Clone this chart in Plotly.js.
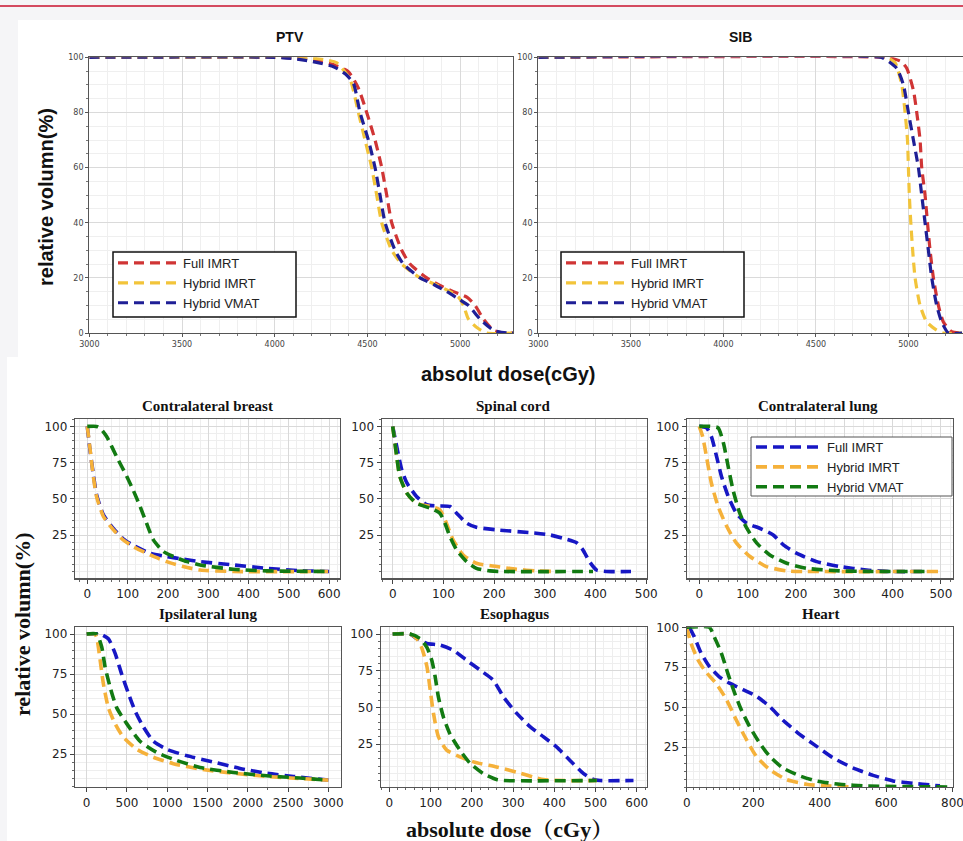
<!DOCTYPE html>
<html>
<head>
<meta charset="utf-8">
<script src="https://cdn.plot.ly/plotly-3.0.1.min.js"></script>
<style>html,body{margin:0;padding:0;background:#fff;}#chart{width:963px;height:841px;}</style>
</head>
<body>
<div id="chart"></div>
<script>
// ---------------- DATA ----------------
const seriesTop = ['Full IMRT', 'Hybrid IMRT', 'Hybrid VMAT'];
const seriesBottom = ['Full IMRT', 'Hybrid IMRT', 'Hybrid VMAT'];
const panelTitlesTop = ['PTV', 'SIB'];
const panelTitlesBottom = ['Contralateral breast', 'Spinal cord', 'Contralateral lung', 'Ipsilateral lung', 'Esophagus', 'Heart'];

// PTV
const ptvFullX = [3000, 4000, 4150, 4250, 4330, 4397, 4450, 4496, 4541, 4577, 4604, 4631, 4685, 4730, 4820, 4900, 4964, 5036, 5081, 5126, 5180, 5234, 5290];
const ptvFullY = [100, 100, 99.5, 98.5, 97, 94.8, 89, 80, 70, 60, 50, 40, 30, 25, 20, 17, 15, 13, 10, 5, 1, 0, 0];
const ptvHybImrtX = [3000, 4100, 4200, 4280, 4335, 4406, 4451, 4487, 4523, 4550, 4577, 4631, 4685, 4784, 4870, 4946, 4991, 5018, 5045, 5090, 5144, 5290];
const ptvHybImrtY = [100, 100, 99.7, 99, 98, 92, 80, 70, 60, 50, 40, 30, 25, 20, 17.5, 15, 13, 10, 5, 2, 0, 0];
const ptvHybVmatX = [3000, 4000, 4100, 4200, 4317, 4380, 4424, 4460, 4505, 4541, 4568, 4595, 4649, 4694, 4784, 4860, 4928, 5000, 5045, 5108, 5180, 5252, 5290];
const ptvHybVmatY = [100, 100, 99.5, 98.5, 96.6, 94, 90.6, 80, 70, 60, 50, 40, 30, 25, 20, 17.5, 15, 12, 10, 5, 1, 0, 0];

// SIB
const sibFullX = [3000, 4880, 4919, 4960, 4991, 5027, 5045, 5063, 5072, 5090, 5103, 5117, 5135, 5162, 5189, 5234, 5290];
const sibFullY = [100, 100, 99.5, 98.5, 96, 88, 80, 70, 60, 50, 40, 30, 20, 10, 4, 0.5, 0];
const sibHybImrtX = [3000, 4880, 4928, 4964, 4982, 4995, 5000, 5005, 5013, 5023, 5036, 5063, 5099, 5153, 5189, 5290];
const sibHybImrtY = [100, 100, 98, 90, 80, 70, 60, 50, 40, 30, 20, 10, 4, 1, 0, 0];
const sibHybVmatX = [3000, 4850, 4883, 4937, 4973, 5000, 5027, 5054, 5072, 5090, 5108, 5126, 5153, 5180, 5216, 5290];
const sibHybVmatY = [100, 100, 99, 96, 90, 80, 70, 60, 50, 40, 30, 20, 10, 4, 0, 0];

// Contralateral breast
const cbFullX = [0, 7, 15, 23, 40, 65, 89, 114, 156, 197, 238, 280, 362, 445, 528, 600];
const cbFullY = [100, 83, 67, 53, 39, 29.5, 22.5, 18, 12.6, 10.3, 8.5, 6.8, 4.5, 2.2, 0.6, 0];
const cbHybImrtX = [0, 7, 15, 23, 40, 65, 89, 114, 156, 197, 238, 280, 362, 600];
const cbHybImrtY = [100, 84, 65.5, 51.7, 37.9, 28.7, 21.8, 17.2, 11.4, 6.8, 3.4, 1, 0, 0];
const cbHybVmatX = [0, 23, 31, 48, 73, 98, 114, 131, 147, 164, 189, 214, 247, 280, 362, 445, 600];
const cbHybVmatY = [100, 100, 99, 93, 79, 65.5, 56, 44.8, 33.3, 21.8, 13.7, 10.3, 6.8, 4.5, 1.5, 0.4, 0];

// Spinal cord
const scFullX = [0, 8, 18, 28, 47, 67, 87, 113, 126, 146, 165, 205, 270, 310, 336, 362, 375, 388, 402, 421, 470];
const scFullY = [100, 86, 70, 61, 51.7, 46, 45.2, 44.8, 40.2, 33.3, 30.5, 28.7, 26.8, 25.2, 22.9, 19.9, 14.9, 6.8, 1, 0, 0];
const scHybImrtX = [0, 8, 14, 28, 47, 74, 93, 106, 119, 139, 165, 205, 244, 283, 320];
const scHybImrtY = [100, 79, 65.5, 54, 47, 44.8, 42.5, 33.3, 21.8, 11.4, 5.7, 3.4, 1.5, 0.4, 0];
const scHybVmatX = [0, 8, 14, 28, 47, 74, 93, 103, 113, 126, 146, 165, 192, 210, 395];
const scHybVmatY = [100, 79, 65.5, 54, 47, 43.6, 40.2, 33.3, 24, 14.9, 6.8, 2.2, 0.4, 0, 0];

// Contralateral lung
const clFullX = [0, 15, 25, 36, 46, 60, 77, 98, 125, 153, 174, 201, 243, 291, 346, 394, 470];
const clFullY = [100, 99, 93, 79, 65.5, 51.7, 40, 33.3, 29.8, 25.2, 18.3, 12.6, 6.8, 3.4, 1, 0, 0];
const clHybImrtX = [0, 7, 15, 25, 39, 57, 77, 105, 139, 181, 222, 500];
const clHybImrtY = [100, 93, 79, 61, 44.8, 31, 19.5, 10.3, 3.4, 0.4, 0, 0];
const clHybVmatX = [0, 22, 39, 50, 60, 70, 84, 98, 119, 146, 181, 222, 291, 350, 477];
const clHybVmatY = [100, 100, 99, 88.5, 72, 56, 40, 30, 19.5, 11.4, 5.7, 2.2, 0.4, 0, 0];

// Ipsilateral lung
const ilFullX = [0, 166, 269, 352, 434, 517, 600, 703, 828, 993, 1241, 1572, 1903, 2235, 2566, 3000];
const ilFullY = [100, 100, 97, 88, 75, 63, 52, 42, 33, 28, 24, 20, 16, 13, 11, 8.7];
const ilHybImrtX = [0, 100, 124, 166, 207, 269, 352, 455, 621, 828, 1076, 1407, 1821, 2235, 2648, 3000];
const ilHybImrtY = [100, 100, 98, 84, 69, 54, 44, 35.5, 28, 23, 19, 15.6, 13, 11, 9.7, 8.7];
const ilHybVmatX = [0, 124, 186, 228, 290, 372, 497, 662, 869, 1117, 1407, 1821, 2235, 2648, 3000];
const ilHybVmatY = [100, 100, 92, 79.5, 67, 54, 44, 33, 26, 21, 16.6, 13.5, 11.4, 10, 8.7];

// Esophagus
const esFullX = [8, 50, 66, 91, 123, 155, 188, 220, 252, 277, 309, 341, 374, 406, 438, 471, 495, 511, 592];
const esFullY = [100, 100, 97, 93.6, 92.5, 89, 82, 75.5, 68.6, 57, 46, 37, 30, 23, 14, 5, 1, 0.3, 0.3];
const esHybImrtX = [8, 50, 66, 78, 91, 99, 107, 119, 139, 163, 204, 260, 309, 349, 374, 422, 503];
const esHybImrtY = [100, 100, 97, 91, 78, 62, 46, 30, 21, 17.5, 13, 9.5, 6, 2.7, 0.9, 0.3, 0.3];
const esHybVmatX = [8, 50, 74, 91, 103, 111, 119, 131, 147, 171, 196, 228, 260, 277, 503];
const esHybVmatY = [100, 100, 97, 91, 82, 71, 57, 43.6, 32, 21, 12, 5, 1, 0.3, 0.3];

// Heart
const htFullX = [8, 23, 43, 68, 98, 129, 169, 209, 249, 289, 340, 390, 440, 500, 561, 621, 681, 742, 762];
const htFullY = [100, 94, 84, 75.5, 69, 65, 61, 57, 50.5, 42, 33, 25.6, 18.3, 12, 7.3, 3.8, 2.3, 1.1, 0.7];
const htHybImrtX = [0, 13, 33, 58, 88, 119, 149, 179, 209, 249, 299, 360, 420, 500];
const htHybImrtY = [100, 90, 80, 72, 65, 55, 42, 30, 19.4, 11, 4.8, 1.7, 0.7, 0];
const htHybVmatX = [0, 68, 83, 104, 124, 144, 164, 189, 219, 249, 289, 340, 390, 460, 541, 641, 800];
const htHybVmatY = [100, 100, 94, 84, 71, 59, 48.5, 38, 27.7, 19.4, 12, 7, 3.8, 1.7, 0.7, 0.3, 0];

// ---------------- LAYOUT HELPERS ----------------
const W = 963, H = 841;
const px = v => v / W;
const py = v => 1 - v / H;

const topColors = ['#d03535', '#f2c43a', '#1f1f96'];
const botColors = ['#1717c4', '#f5b13a', '#127a12'];

const traces = [];
function addSet(xs, ys, names, colors, axisNum, legendId, dash, width) {
  for (let i = 0; i < xs.length; i++) {
    traces.push({
      type: 'scatter', mode: 'lines', x: xs[i], y: ys[i], name: names[i],
      xaxis: axisNum === 1 ? 'x' : 'x' + axisNum,
      yaxis: axisNum === 1 ? 'y' : 'y' + axisNum,
      line: {color: colors[i], width: width, dash: dash, shape: 'spline', smoothing: 0.6},
      showlegend: !!legendId,
      legend: legendId || 'legend',
      hoverinfo: 'skip'
    });
  }
}

addSet([ptvFullX, ptvHybImrtX, ptvHybVmatX], [ptvFullY, ptvHybImrtY, ptvHybVmatY], seriesTop, topColors, 1, 'legend', '10px,6px', 3.2);
addSet([sibFullX, sibHybImrtX, sibHybVmatX], [sibFullY, sibHybImrtY, sibHybVmatY], seriesTop, topColors, 2, 'legend2', '10px,6px', 3.2);
addSet([cbFullX, cbHybImrtX, cbHybVmatX], [cbFullY, cbHybImrtY, cbHybVmatY], seriesBottom, botColors, 3, null, '11px,6px', 3.6);
addSet([scFullX, scHybImrtX, scHybVmatX], [scFullY, scHybImrtY, scHybVmatY], seriesBottom, botColors, 4, null, '11px,6px', 3.6);
addSet([clFullX, clHybImrtX, clHybVmatX], [clFullY, clHybImrtY, clHybVmatY], seriesBottom, botColors, 5, 'legend3', '11px,6px', 3.6);
addSet([ilFullX, ilHybImrtX, ilHybVmatX], [ilFullY, ilHybImrtY, ilHybVmatY], seriesBottom, botColors, 6, null, '11px,6px', 3.6);
addSet([esFullX, esHybImrtX, esHybVmatX], [esFullY, esHybImrtY, esHybVmatY], seriesBottom, botColors, 7, null, '11px,6px', 3.6);
addSet([htFullX, htHybImrtX, htHybVmatX], [htFullY, htHybImrtY, htHybVmatY], seriesBottom, botColors, 8, null, '11px,6px', 3.6);

function topAxis(domain, range, tickvals, minorDtick, anchor) {
  return {
    domain: domain, range: range, anchor: anchor, tickmode: 'array', tickvals: tickvals,
    ticks: 'outside', ticklen: 3, tickcolor: '#555', tickwidth: 1,
    tickfont: {family: 'DejaVu Sans', size: 8, color: '#444'},
    showline: true, linecolor: '#555', linewidth: 1.2, mirror: true,
    showgrid: true, gridcolor: '#dadada', gridwidth: 1,
    zeroline: false,
    minor: {dtick: minorDtick, showgrid: true, gridcolor: '#efefef', ticks: 'outside', ticklen: 2, tickcolor: '#777'}
  };
}
function botAxis(domain, range, tickvals, minorDtick, anchor) {
  return {
    domain: domain, range: range, anchor: anchor, tickmode: 'array', tickvals: tickvals,
    ticks: 'outside', ticklen: 4, tickcolor: '#444', tickwidth: 1,
    tickfont: {family: 'DejaVu Sans', size: 12, color: '#222'},
    showline: true, linecolor: '#555', linewidth: 1.2, mirror: true,
    showgrid: true, gridcolor: '#d9d9d9', gridwidth: 1,
    zeroline: false,
    minor: {dtick: minorDtick, tick0: 0, showgrid: true, gridcolor: '#eeeeee', ticks: 'outside', ticklen: 2, tickcolor: '#666'}
  };
}

const doseTicksTop = [3000, 3500, 4000, 4500, 5000];
const volTicksTop = [0, 20, 40, 60, 80, 100];
const volTicksBot = [25, 50, 75, 100];

const row1 = [py(578.3), py(419)];
const row2 = [py(787), py(627.3)];

const legendBase = {
  xanchor: 'left', yanchor: 'top', bgcolor: 'rgba(0,0,0,0)', borderwidth: 0,
  font: {family: 'Liberation Sans', size: 13, color: '#222'},
  itemwidth: 60, tracegroupgap: 0, itemclick: false, itemdoubleclick: false
};

const xaxis8 = botAxis([px(686.7), px(952.7)], [0, 800.5], [0, 200, 400, 600, 800], 20, 'y8');
xaxis8.ticklabeloverflow = 'allow';

const layout = {
  width: W, height: H,
  margin: {l: 0, r: 0, t: 0, b: 0},
  paper_bgcolor: '#f5f5f7',
  plot_bgcolor: '#ffffff',
  showlegend: true,
  xaxis:  topAxis([px(89.3), px(513)], [3000, 5285], doseTicksTop, 100, 'y'),
  yaxis:  topAxis([py(333), py(57.3)], [0, 100], volTicksTop, 5, 'x'),
  xaxis2: topAxis([px(538.3), 1], [3000, 5295], doseTicksTop, 100, 'y2'),
  yaxis2: topAxis([py(333), py(57.3)], [0, 100], volTicksTop, 5, 'x2'),

  xaxis3: botAxis([px(75), px(340)], [-30.5, 627], [0, 100, 200, 300, 400, 500, 600], 20, 'y3'),
  yaxis3: botAxis(row1, [-4.7, 105.1], volTicksBot, 5, 'x3'),
  xaxis4: botAxis([px(381.7), px(646.5)], [-21.7, 500.5], [0, 100, 200, 300, 400, 500], 20, 'y4'),
  yaxis4: botAxis(row1, [-4.7, 105.1], volTicksBot, 5, 'x4'),
  xaxis5: botAxis([px(686.7), px(953)], [-26, 525], [0, 100, 200, 300, 400, 500], 20, 'y5'),
  yaxis5: botAxis(row1, [-4.7, 105.1], volTicksBot, 5, 'x5'),

  xaxis6: botAxis([px(75), px(340.7)], [-145, 3153], [0, 500, 1000, 1500, 2000, 2500, 3000], 250, 'y6'),
  yaxis6: botAxis(row2, [4.4, 104.2], volTicksBot, 5, 'x6'),
  xaxis7: botAxis([px(380.7), px(646.7)], [-21, 624], [0, 100, 200, 300, 400, 500, 600], 20, 'y7'),
  yaxis7: botAxis(row2, [-4.1, 104.6], volTicksBot, 5, 'x7'),
  xaxis8: xaxis8,
  yaxis8: botAxis(row2, [0, 100], volTicksBot, 5, 'x8'),

  legend: Object.assign({}, legendBase, {x: px(113), y: py(248)}),
  legend2: Object.assign({}, legendBase, {x: px(561), y: py(248)}),
  legend3: Object.assign({}, legendBase, {x: px(751), y: py(432), itemwidth: 66}),
  shapes: [
    {type: 'rect', xref: 'paper', yref: 'paper', x0: px(18), x1: 1, y0: py(357), y1: py(20), fillcolor: '#ffffff', line: {width: 0}, layer: 'below'},
    {type: 'rect', xref: 'paper', yref: 'paper', x0: px(7), x1: 1, y0: 0, y1: py(357), fillcolor: '#ffffff', line: {width: 0}, layer: 'below'},
    {type: 'line', xref: 'paper', yref: 'paper', x0: 0, x1: 1, y0: py(6), y1: py(6), line: {color: '#c8102e', width: 1.5}},
    // legend frames
    {type: 'rect', xref: 'paper', yref: 'paper', x0: px(113), x1: px(296), y0: py(317), y1: py(252), fillcolor: '#ffffff', line: {color: '#111', width: 1.5}, layer: 'above'},
    {type: 'rect', xref: 'paper', yref: 'paper', x0: px(561), x1: px(744), y0: py(317), y1: py(252), fillcolor: '#ffffff', line: {color: '#111', width: 1.5}, layer: 'above'},
    {type: 'rect', xref: 'paper', yref: 'paper', x0: px(751), x1: px(952), y0: py(496), y1: py(437), fillcolor: '#ffffff', line: {color: '#555', width: 1}, layer: 'above'}
  ],
  annotations: []
};

const ann = layout.annotations;
const topTitlePos = [[290, 37], [740, 37]];
panelTitlesTop.forEach((t, i) => ann.push({
  text: '<b>' + t + '</b>', xref: 'paper', yref: 'paper', x: px(topTitlePos[i][0]), y: py(topTitlePos[i][1]),
  showarrow: false, xanchor: 'center', yanchor: 'middle',
  font: {family: 'Liberation Sans Narrow, Liberation Sans', size: 14, color: '#111'}
}));
const botTitlePos = [[207, 406], [513, 406], [818, 406], [208, 614], [514, 614], [820, 614]];
panelTitlesBottom.forEach((t, i) => ann.push({
  text: '<b>' + t + '</b>', xref: 'paper', yref: 'paper', x: px(botTitlePos[i][0]), y: py(botTitlePos[i][1]),
  showarrow: false, xanchor: 'center', yanchor: 'middle',
  font: {family: 'Liberation Serif', size: 15, color: '#111'}
}));
ann.push({
  text: '<b>relative volumn(%)</b>', xref: 'paper', yref: 'paper', x: px(46), y: py(197),
  showarrow: false, textangle: -90, xanchor: 'center', yanchor: 'middle',
  font: {family: 'Liberation Sans', size: 20, color: '#111'}
});
ann.push({
  text: '<b>absolut dose(cGy)</b>', xref: 'paper', yref: 'paper', x: px(508), y: py(374),
  showarrow: false, xanchor: 'center', yanchor: 'middle',
  font: {family: 'Liberation Sans', size: 20, color: '#111'}
});
ann.push({
  text: '<b>relative volumn(%)</b>', xref: 'paper', yref: 'paper', x: px(22), y: py(624),
  showarrow: false, textangle: -90, xanchor: 'center', yanchor: 'middle',
  font: {family: 'Liberation Serif', size: 22, color: '#111'}
});
ann.push({
  text: '<b>absolute dose（cGy）</b>', xref: 'paper', yref: 'paper', x: px(510), y: py(829),
  showarrow: false, xanchor: 'center', yanchor: 'middle',
  font: {family: 'Liberation Serif, Noto Serif CJK SC, Noto Sans CJK SC', size: 22, color: '#111'}
});

Plotly.newPlot('chart', traces, layout, {staticPlot: true, displayModeBar: false});
</script>
</body>
</html>
